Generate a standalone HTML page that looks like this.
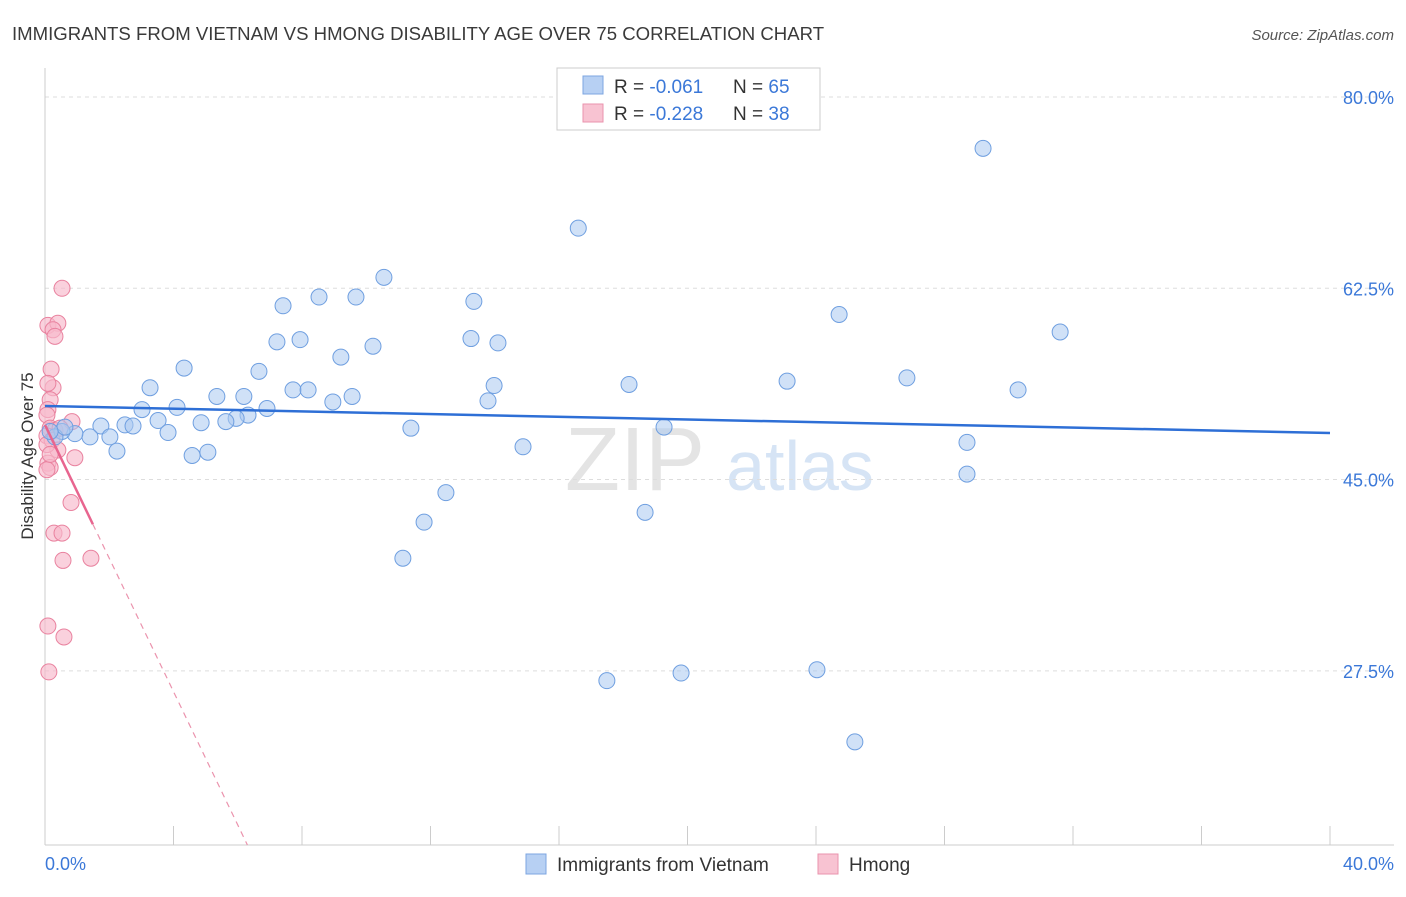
<!DOCTYPE html>
<html><head><meta charset="utf-8"><style>
body{margin:0;background:#fff;font-family:"Liberation Sans",sans-serif}
svg text{font-family:"Liberation Sans",sans-serif}
</style></head><body>
<svg id="chart" width="1406" height="892">
<text x="12" y="40" font-size="18.6" fill="#3a3a3a">IMMIGRANTS FROM VIETNAM VS HMONG DISABILITY AGE OVER 75 CORRELATION CHART</text>
<text x="1394" y="40" font-size="15" fill="#555" font-style="italic" text-anchor="end">Source: ZipAtlas.com</text>
<text x="635" y="490" font-size="90" fill="#e4e4e4" font-family="Liberation Serif" text-anchor="middle">ZIP</text>
<text x="800" y="490" font-size="70" fill="#d6e4f5" text-anchor="middle">atlas</text>
<text transform="translate(33,456) rotate(-90)" font-size="17" fill="#333" text-anchor="middle">Disability Age Over 75</text>
<g id="grid"></g><g id="axes"></g><g id="pts"></g><g id="trends"></g>
<g>
<rect x="557" y="68" width="263" height="62" fill="#fff" stroke="#ccc"/>
<rect x="583" y="76" width="20" height="18" fill="#b7d0f3" stroke="#7ca6e0"/>
<text x="614" y="93" font-size="19" fill="#333">R = <tspan fill="#3b78d8">-0.061</tspan></text>
<text x="733" y="93" font-size="19" fill="#333">N = <tspan fill="#3b78d8">65</tspan></text>
<rect x="583" y="104" width="20" height="18" fill="#f8c3d2" stroke="#ea93ad"/>
<text x="614" y="120" font-size="19" fill="#333">R = <tspan fill="#3b78d8">-0.228</tspan></text>
<text x="733" y="120" font-size="19" fill="#333">N = <tspan fill="#3b78d8">38</tspan></text>
</g>
<g>
<rect x="526" y="854" width="20" height="20" fill="#b7d0f3" stroke="#7ca6e0"/>
<text x="557" y="871" font-size="19" fill="#333">Immigrants from Vietnam</text>
<rect x="818" y="854" width="20" height="20" fill="#f8c3d2" stroke="#ea93ad"/>
<text x="849" y="871" font-size="19" fill="#333">Hmong</text>
</g>
</svg>
<script>
const yTicks=[27.5,45.0,62.5,80.0];
const xTickLabels=["0.0%","40.0%"];
const blueX=[29.2,16.6,10.55,8.53,9.68,7.41,13.35,24.72,31.6,7.22,7.94,13.26,14.1,10.21,9.21,4.33,6.66,3.27,7.72,8.19,13.98,18.18,23.1,26.83,30.29,5.35,6.19,9.56,8.96,13.79,3.02,4.11,6.91,6.32,5.95,5.63,4.86,3.52,2.49,2.74,1.74,3.83,2.02,1.4,0.93,0.53,0.31,0.62,11.39,19.27,28.7,2.24,4.58,5.07,14.88,28.7,12.48,11.8,18.68,11.14,17.49,19.8,24.03,25.21,0.16];
const blueY=[75.3,68.0,63.5,61.7,61.7,60.9,61.3,60.1,58.5,57.6,57.8,57.9,57.5,57.2,56.2,55.2,54.9,53.4,53.2,53.2,53.6,53.7,54.0,54.3,53.2,52.6,52.6,52.6,52.1,52.2,51.4,51.6,51.5,50.9,50.6,50.3,50.2,50.4,50.0,49.9,49.9,49.3,48.9,48.9,49.2,49.4,48.9,49.8,49.7,49.8,48.4,47.6,47.2,47.5,48.0,45.5,43.8,41.1,42.0,37.8,26.6,27.3,27.6,21.0,49.4];
const pinkX=[0.53,0.09,0.4,0.25,0.31,0.19,0.25,0.09,0.16,0.09,0.06,0.84,0.16,0.31,0.47,0.06,0.22,0.4,0.93,0.09,0.16,0.06,0.81,0.28,0.53,0.56,1.43,0.09,0.59,0.12,0.06,0.16];
const pinkY=[62.5,59.1,59.3,58.7,58.1,55.1,53.4,53.8,52.3,51.4,50.9,50.3,49.7,49.5,49.7,49.0,48.6,47.7,47.0,46.5,46.1,45.9,42.9,40.1,40.1,37.6,37.8,31.6,30.6,27.4,48.2,47.3];
const blueTrend=[51.73,49.26];
const pinkTrend=[50.0,-6.1];
const NS="http://www.w3.org/2000/svg";
const X0=45,X1=1330,YT=97,PPY=10.93,BOT=845;
const sx=v=>X0+(X1-X0)*v/40;
const sy=v=>YT+(80-v)*PPY;
function mk(p,t,a){const e=document.createElementNS(NS,t);for(const k in a)e.setAttribute(k,a[k]);p.appendChild(e);return e;}
const grid=document.getElementById('grid'),axes=document.getElementById('axes');
yTicks.forEach(t=>{
 const l=mk(grid,'line',{x1:X0,x2:1394,y1:sy(t),y2:sy(t),stroke:'#ddd','stroke-dasharray':'4,4'});
 
 
 const tx=mk(axes,'text',{x:1394,y:sy(t)+7,'font-size':18,fill:'#3b78d8','text-anchor':'end'});
 tx.textContent=t.toFixed(1)+'%';
 
 
});
const ya=mk(axes,'line',{x1:X0,x2:X0,y1:68,y2:BOT,stroke:'#ccc'});


const xa=mk(axes,'line',{x1:X0,x2:1394,y1:BOT,y2:BOT,stroke:'#ccc'});


for(let i=0;i<=10;i++){const t=mk(axes,'line',{x1:sx(i*4),x2:sx(i*4),y1:826,y2:BOT,stroke:'#ccc'});
 
 }
[[0,'start',45],[40,'end',1394]].forEach((d,i)=>{const t=mk(axes,'text',{x:d[2],y:870,'font-size':18,fill:'#3b78d8','text-anchor':d[1]});t.textContent=xTickLabels[i];
 
 });
const pts=document.getElementById('pts');
pinkX.forEach((x,i)=>{const c=mk(pts,'circle',{cx:sx(x),cy:sy(pinkY[i]),r:8,fill:'#f7b8cb','fill-opacity':0.65,stroke:'#e9829f','stroke-width':1});
 
 });
blueX.forEach((x,i)=>{const c=mk(pts,'circle',{cx:sx(x),cy:sy(blueY[i]),r:8,fill:'#a9c8f0','fill-opacity':0.55,stroke:'#6f9fe0','stroke-width':1});
 
 });
const tr=document.getElementById('trends');
const bl=mk(tr,'line',{x1:sx(0),y1:sy(blueTrend[0]),x2:sx(40),y2:sy(blueTrend[1]),stroke:'#2e6fd6','stroke-width':2.5});


const pAt=x=>pinkTrend[0]+pinkTrend[1]*x;
const xEnd=(pinkTrend[0]-(80-(BOT-YT)/PPY))/(-pinkTrend[1]);
const ps=mk(tr,'line',{x1:sx(0),y1:sy(pAt(0)),x2:sx(1.49),y2:sy(pAt(1.49)),stroke:'#e8658f','stroke-width':2.5});


const pd=mk(tr,'line',{x1:sx(1.49),y1:sy(pAt(1.49)),x2:sx(xEnd),y2:sy(pAt(xEnd)),stroke:'#eb93ad','stroke-width':1.2,'stroke-dasharray':'6,5'});


</script>
</body></html>
